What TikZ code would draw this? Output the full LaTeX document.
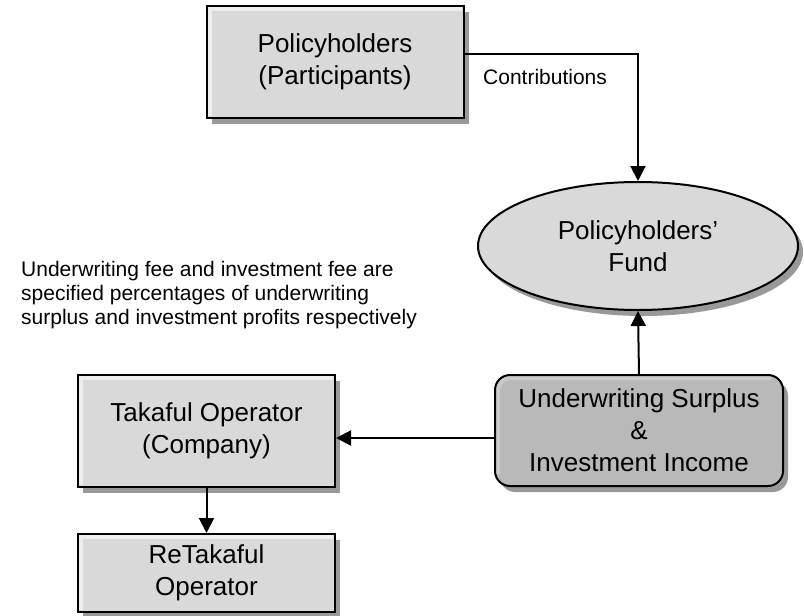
\documentclass[tikz,border=0pt]{standalone}
\usepackage{fontspec}
\setmainfont{Liberation Sans}
\usetikzlibrary{shapes.geometric,shadows,arrows.meta,calc}
\definecolor{boxgray}{HTML}{D9D9D9}
\definecolor{darkgray2}{HTML}{B9B9B9}
\definecolor{shadowgray}{HTML}{999999}
\definecolor{hilite}{HTML}{EEEEEE}
\tikzset{
  shd/.style={drop shadow={shadow xshift=5pt,shadow yshift=-6pt,fill=shadowgray,opacity=1}},
  bigtext/.style={font=\fontsize{26}{32}\selectfont, align=center, inner sep=0pt},
  box/.style={bigtext, shd, rectangle, draw=black, line width=2pt, fill=boxgray,
    path picture={\draw[hilite, line width=4pt]
      ([xshift=3pt,yshift=2pt]path picture bounding box.south west) |-
      ([xshift=-2pt,yshift=-3pt]path picture bounding box.north east);}},
  rbox/.style={bigtext, shd, rectangle, rounded corners=15pt, draw=black, line width=2pt, fill=darkgray2,
    path picture={\draw[gray!40, line width=4pt, rounded corners=12pt]
      ([xshift=3pt,yshift=12pt]path picture bounding box.south west) |-
      ([xshift=-12pt,yshift=-3pt]path picture bounding box.north east);}},
  oval/.style={bigtext, shd, ellipse, draw=black, line width=2pt, fill=boxgray},
  smalltext/.style={font=\fontsize{21}{24}\selectfont, inner sep=0pt},
  arr/.style={draw=black, line width=2pt, -{Triangle[length=15pt,width=15pt]}}
}
\begin{document}
\begin{tikzpicture}[x=1pt,y=-1pt]
\useasboundingbox (0,0) rectangle (804,616);
\node[box, minimum width=257pt, minimum height=112pt] (pol) at (335,62) {Policyholders\\(Participants)};
\node[oval, minimum width=320pt, minimum height=128pt] (fund) at (638,246) {Policyholders’\\Fund};
\node[rbox, minimum width=288pt, minimum height=111pt] (uw) at (639,430.5) {Underwriting Surplus\\\&\\Investment Income};
\node[box, minimum width=257pt, minimum height=112pt] (tak) at (206.5,431) {Takaful Operator\\(Company)};
\node[box, minimum width=257pt, minimum height=78pt] (ret) at (206.5,573) {ReTakaful\\Operator};
\node[smalltext, anchor=west, align=left] (note) at (21,295) {Underwriting fee and investment fee are\\specified percentages of underwriting\\surplus and investment profits respectively};
\node[smalltext, anchor=west] (lab) at (483,77) {Contributions};
\coordinate (pe) at ([yshift=8pt]pol.east);
\coordinate (uwl) at ([yshift=-7.5pt]uw.west);
\draw[arr] (pe) -| (fund.north);
\draw[arr] (uw.north) -- (fund.south);
\draw[arr] (uwl) -- (uwl -| tak.east);
\draw[arr] (tak.south) -- (ret.north);
\end{tikzpicture}
\end{document}
